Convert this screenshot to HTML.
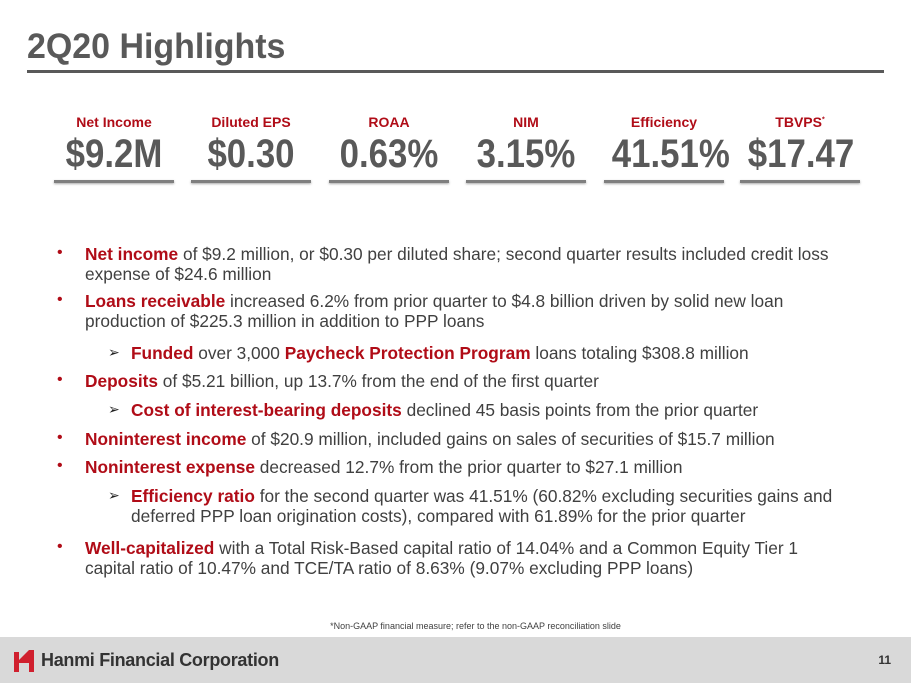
<!DOCTYPE html>
<html><head><meta charset="utf-8"><style>
body{margin:0;width:911px;height:683px;position:relative;background:#fff;font-family:"Liberation Sans",Arial,sans-serif;overflow:hidden}
.t{position:absolute;left:27px;top:27px;font-size:35px;font-weight:bold;color:#595959;white-space:nowrap;transform:scaleX(0.97);transform-origin:left}
.rule{position:absolute;left:27px;top:70px;width:857px;height:3px;background:#595959}
.m{position:absolute;top:114px;width:120px;text-align:center;white-space:nowrap}
.m .l{font-size:14px;font-weight:bold;color:#b00c17;height:20px}
.m .v{font-size:40px;font-weight:bold;color:#595959;line-height:40px;margin-top:0px;transform:scaleX(0.87)}
.m .u{height:3px;background:#7f7f7f;margin-top:6px;box-shadow:0 1px 2px #aaa}
.b{position:absolute;font-size:17.3px;color:#404040;line-height:20px;white-space:nowrap}
.b b{color:#b00c17}
.d{position:absolute;left:57px;color:#b00c17;font-size:16px}
.a{position:absolute;left:108px;font-size:14px;color:#222}
.fn{position:absolute;top:621px;left:0;width:911px;text-align:center;font-size:9px;color:#404040;padding-left:40px;box-sizing:border-box}
.foot{position:absolute;left:0;top:637px;width:911px;height:46px;background:#d9d9d9}
</style></head><body>
<div class="t">2Q20 Highlights</div>
<div class="rule"></div>
<div class="m" style="left:54px"><div class="l">Net Income</div><div class="v">$9.2M</div><div class="u"></div></div>
<div class="m" style="left:191px"><div class="l">Diluted EPS</div><div class="v">$0.30</div><div class="u"></div></div>
<div class="m" style="left:329px"><div class="l">ROAA</div><div class="v">0.63%</div><div class="u"></div></div>
<div class="m" style="left:466px"><div class="l">NIM</div><div class="v">3.15%</div><div class="u"></div></div>
<div class="m" style="left:604px"><div class="l">Efficiency</div><div class="v">41.51%</div><div class="u"></div></div>
<div class="m" style="left:740px"><div class="l">TBVPS<sup style="font-size:7px">*</sup></div><div class="v">$17.47</div><div class="u"></div></div>

<div class="d" style="top:244px">•</div>
<div class="b" style="left:85px;top:244px"><b>Net income</b> of $9.2 million, or $0.30 per diluted share; second quarter results included credit loss<br>expense of $24.6 million</div>
<div class="d" style="top:291px">•</div>
<div class="b" style="left:85px;top:291px"><b>Loans receivable</b> increased 6.2% from prior quarter to $4.8 billion driven by solid new loan<br>production of $225.3 million in addition to PPP loans</div>
<div class="a" style="top:344px">➢</div>
<div class="b" style="left:131px;top:343px"><b>Funded</b> over 3,000 <b>Paycheck Protection Program</b> loans totaling $308.8 million</div>
<div class="d" style="top:371px">•</div>
<div class="b" style="left:85px;top:371px"><b>Deposits</b> of $5.21 billion, up 13.7% from the end of the first quarter</div>
<div class="a" style="top:401px">➢</div>
<div class="b" style="left:131px;top:400px"><b>Cost of interest-bearing deposits</b> declined 45 basis points from the prior quarter</div>
<div class="d" style="top:429px">•</div>
<div class="b" style="left:85px;top:429px"><b>Noninterest income</b> of $20.9 million, included gains on sales of securities of $15.7 million</div>
<div class="d" style="top:457px">•</div>
<div class="b" style="left:85px;top:457px"><b>Noninterest expense</b> decreased 12.7% from the prior quarter to $27.1 million</div>
<div class="a" style="top:487px">➢</div>
<div class="b" style="left:131px;top:486px"><b>Efficiency ratio</b> for the second quarter was 41.51% (60.82% excluding securities gains and<br>deferred PPP loan origination costs), compared with 61.89% for the prior quarter</div>
<div class="d" style="top:538px">•</div>
<div class="b" style="left:85px;top:538px"><b>Well-capitalized</b> with a Total Risk-Based capital ratio of 14.04% and a Common Equity Tier 1<br>capital ratio of 10.47% and TCE/TA ratio of 8.63% (9.07% excluding PPP loans)</div>

<div class="fn">*Non-GAAP financial measure; refer to the non-GAAP reconciliation slide</div>
<div class="foot">
<svg style="position:absolute;left:14px;top:13px" width="22" height="22" viewBox="0 0 22 22"><path d="M0 2h5v8l10-10h5v22h-5v-9l-10 0v9h-5z" fill="#d0202e"/></svg>
<div style="position:absolute;left:41px;top:13px;font-size:18px;font-weight:bold;color:#333;letter-spacing:-0.3px">Hanmi Financial Corporation</div>
<div style="position:absolute;right:20px;top:16px;font-size:12px;font-weight:bold;color:#333">11</div>
</div>
</body></html>
